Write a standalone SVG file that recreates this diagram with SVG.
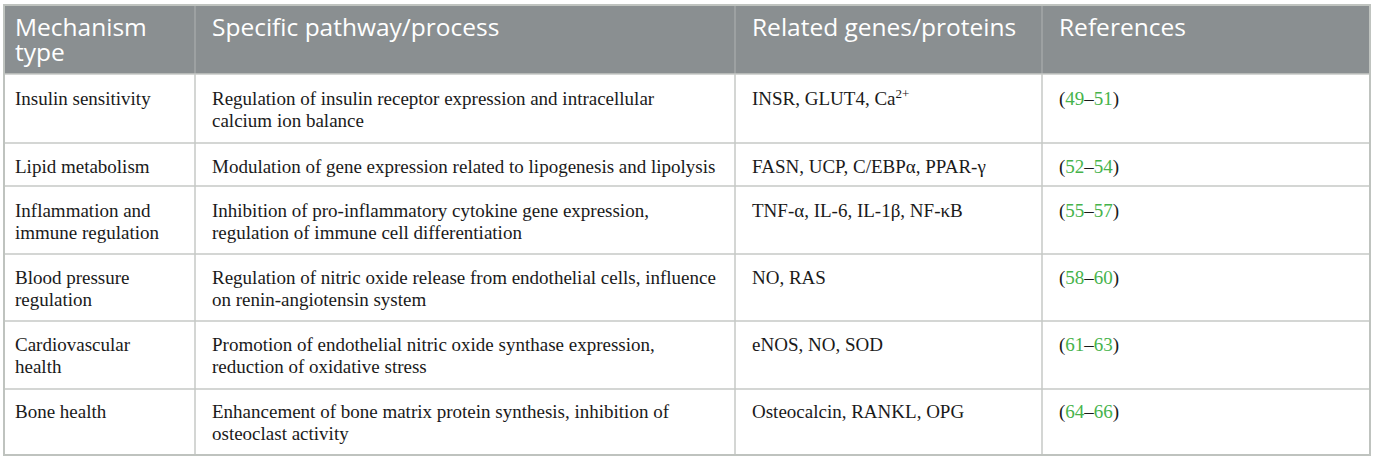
<svg xmlns="http://www.w3.org/2000/svg" width="1375" height="462" viewBox="0 0 1375 462">
<style>
.hd{font-family:"Open Sans","Liberation Sans",sans-serif;font-size:24.5px;fill:#ffffff;}
.bd{font-family:"Liberation Serif","Times New Roman",serif;font-size:19px;fill:#1a1a1a;}
.ref{fill:#46b34b;}
.grid{stroke:#c6c8c6;stroke-width:1.5;fill:none;}
.hgrid{stroke:#a3a7a9;stroke-width:1.5;}
</style>
<rect x="0" y="0" width="1375" height="462" fill="#ffffff"/>
<g id="header">
<rect x="4" y="5" width="1366" height="69" fill="#8a8f91"/>
<text class="hd" x="15" y="36">Mechanism</text>
<text class="hd" x="15" y="61">type</text>
<text class="hd" x="212" y="36">Specific pathway/process</text>
<text class="hd" x="752" y="36">Related genes/proteins</text>
<text class="hd" x="1059" y="36">References</text>
</g>
<g id="grid-lines">
<line class="hgrid" x1="195" y1="5" x2="195" y2="74"/>
<line class="hgrid" x1="735" y1="5" x2="735" y2="74"/>
<line class="hgrid" x1="1042" y1="5" x2="1042" y2="74"/>
<line class="grid" x1="195" y1="74" x2="195" y2="455"/>
<line class="grid" x1="735" y1="74" x2="735" y2="455"/>
<line class="grid" x1="1042" y1="74" x2="1042" y2="455"/>
<line class="grid" x1="4" y1="74" x2="1370" y2="74"/>
<line class="grid" x1="4" y1="143" x2="1370" y2="143"/>
<line class="grid" x1="4" y1="186" x2="1370" y2="186"/>
<line class="grid" x1="4" y1="254" x2="1370" y2="254"/>
<line class="grid" x1="4" y1="321" x2="1370" y2="321"/>
<line class="grid" x1="4" y1="389" x2="1370" y2="389"/>
<rect x="4" y="5" width="1366" height="450" fill="none" stroke="#bfc3bf" stroke-width="2"/>
</g>
<g id="row-insulin">
<text class="bd" x="15" y="105">Insulin sensitivity</text>
<text class="bd" x="212" y="105">Regulation of insulin receptor expression and intracellular</text>
<text class="bd" x="212" y="127">calcium ion balance</text>
<text class="bd" x="752" y="105">INSR, GLUT4, Ca<tspan font-size="13" dy="-7">2+</tspan></text>
<text class="bd" x="1059" y="105">(<tspan class="ref">49</tspan>–<tspan class="ref">51</tspan>)</text>
</g>
<g id="row-lipid">
<text class="bd" x="15" y="173">Lipid metabolism</text>
<text class="bd" x="212" y="173">Modulation of gene expression related to lipogenesis and lipolysis</text>
<text class="bd" x="752" y="173">FASN, UCP, C/EBPα, PPAR-γ</text>
<text class="bd" x="1059" y="173">(<tspan class="ref">52</tspan>–<tspan class="ref">54</tspan>)</text>
</g>
<g id="row-inflammation">
<text class="bd" x="15" y="217">Inflammation and</text>
<text class="bd" x="15" y="239">immune regulation</text>
<text class="bd" x="212" y="217">Inhibition of pro-inflammatory cytokine gene expression,</text>
<text class="bd" x="212" y="239">regulation of immune cell differentiation</text>
<text class="bd" x="752" y="217">TNF-α, IL-6, IL-1β, NF-κB</text>
<text class="bd" x="1059" y="217">(<tspan class="ref">55</tspan>–<tspan class="ref">57</tspan>)</text>
</g>
<g id="row-blood-pressure">
<text class="bd" x="15" y="284">Blood pressure</text>
<text class="bd" x="15" y="306">regulation</text>
<text class="bd" x="212" y="284">Regulation of nitric oxide release from endothelial cells, influence</text>
<text class="bd" x="212" y="306">on renin-angiotensin system</text>
<text class="bd" x="752" y="284">NO, RAS</text>
<text class="bd" x="1059" y="284">(<tspan class="ref">58</tspan>–<tspan class="ref">60</tspan>)</text>
</g>
<g id="row-cardiovascular">
<text class="bd" x="15" y="351">Cardiovascular</text>
<text class="bd" x="15" y="373">health</text>
<text class="bd" x="212" y="351">Promotion of endothelial nitric oxide synthase expression,</text>
<text class="bd" x="212" y="373">reduction of oxidative stress</text>
<text class="bd" x="752" y="351">eNOS, NO, SOD</text>
<text class="bd" x="1059" y="351">(<tspan class="ref">61</tspan>–<tspan class="ref">63</tspan>)</text>
</g>
<g id="row-bone">
<text class="bd" x="15" y="418">Bone health</text>
<text class="bd" x="212" y="418">Enhancement of bone matrix protein synthesis, inhibition of</text>
<text class="bd" x="212" y="440">osteoclast activity</text>
<text class="bd" x="752" y="418">Osteocalcin, RANKL, OPG</text>
<text class="bd" x="1059" y="418">(<tspan class="ref">64</tspan>–<tspan class="ref">66</tspan>)</text>
</g>
</svg>
